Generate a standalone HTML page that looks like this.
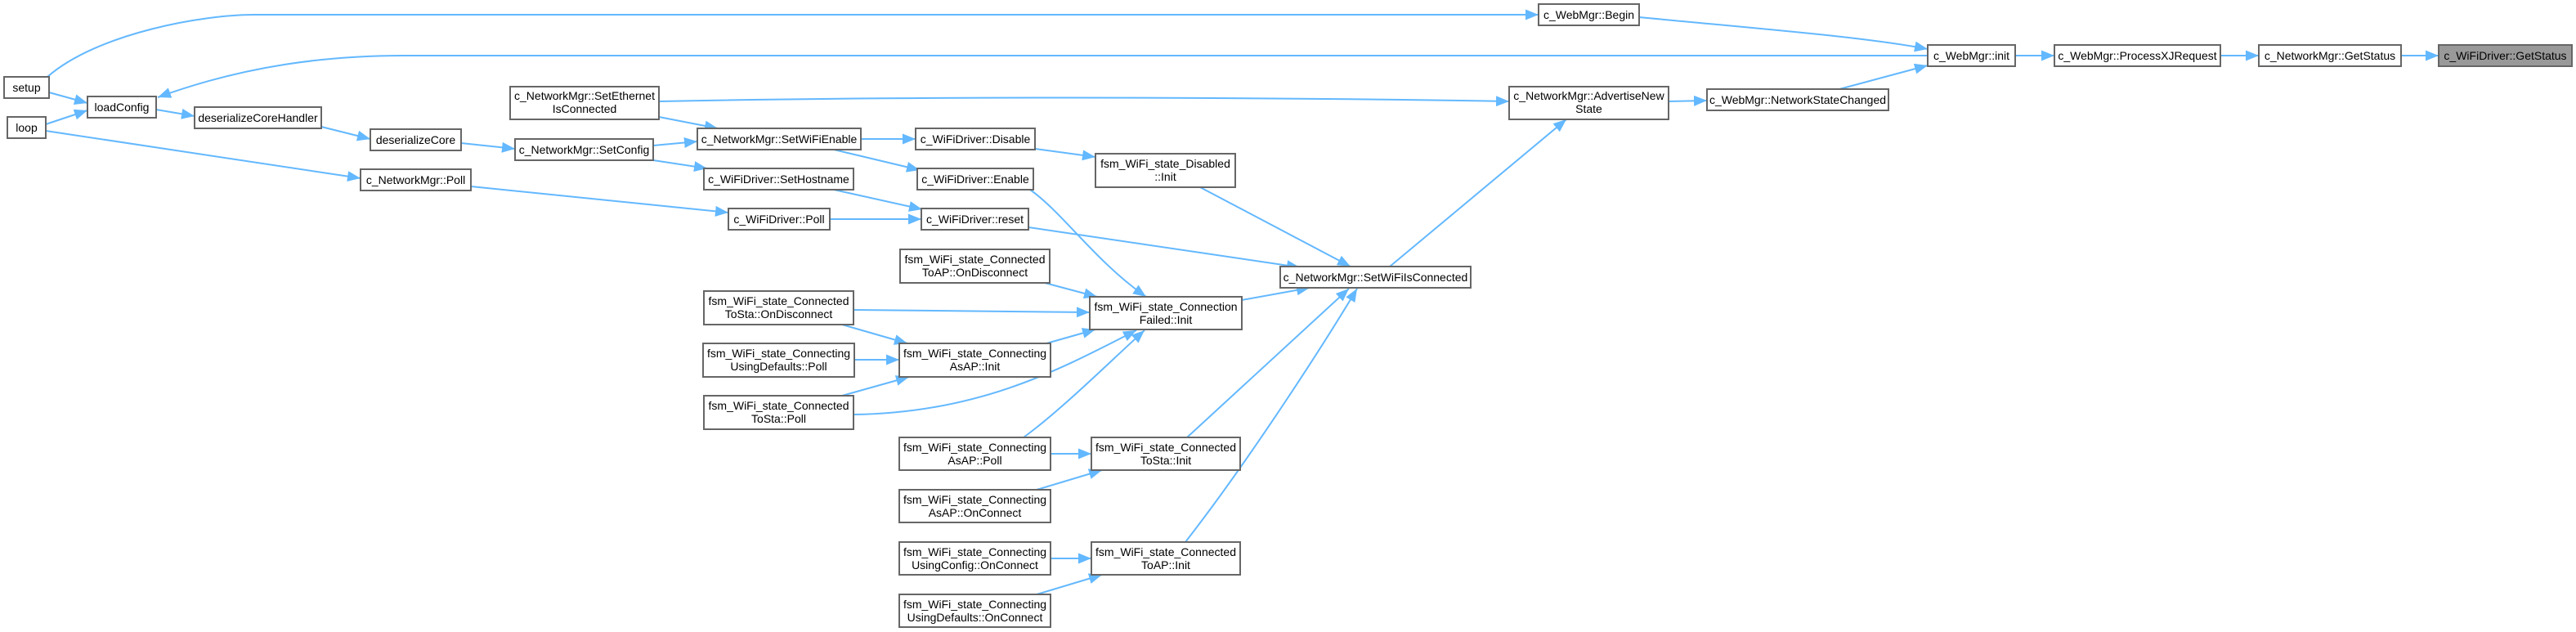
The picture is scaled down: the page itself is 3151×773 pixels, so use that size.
<!DOCTYPE html>
<html><head><meta charset="utf-8"><style>
html,body{margin:0;padding:0;background:#fff;}
svg{display:block;}
text{font-family:"Liberation Sans",Arial,sans-serif;font-size:14px;fill:#000;text-anchor:middle;}
rect{fill:#fff;stroke:#666;stroke-width:2;}
path{fill:none;stroke:#63b8ff;stroke-width:2;}
</style></head><body>
<svg width="3151" height="773" viewBox="0 0 3151 773" xmlns="http://www.w3.org/2000/svg">
<defs>
<marker id="a" markerUnits="userSpaceOnUse" markerWidth="17" markerHeight="13" refX="16" refY="6.5" orient="auto">
<polygon points="0,0 16,6.5 0,13" fill="#63b8ff"/>
</marker>
</defs>
<g marker-end="url(#a)">
<path d="M58,94 C120,40 250,18 310,18 L1882,18"/>
<path d="M2358,68 L495,68 C400,68 300,80 193,119"/>
<path d="M60,113 L107,126"/>
<path d="M56,152 L107,135"/>
<path d="M191,134 L238,142"/>
<path d="M393,155 L453,170"/>
<path d="M564,175 L630,182"/>
<path d="M56,160 L441,218"/>
<path d="M806,124 C1100,118 1500,118 1846,124"/>
<path d="M806,143 L878,157"/>
<path d="M799,178 L853,173"/>
<path d="M799,196 L865,206"/>
<path d="M1053,170 L1120,170"/>
<path d="M1020,183 L1125,208"/>
<path d="M1020,232 L1128,256"/>
<path d="M1015,268 L1127,268"/>
<path d="M576,228 L891,260"/>
<path d="M1266,182 L1340,192"/>
<path d="M1260,232 C1300,260 1340,320 1402,363"/>
<path d="M1258,278 L1590,327"/>
<path d="M1468,229 L1652,326"/>
<path d="M1700,326 L1916,146"/>
<path d="M1519,367 L1602,352"/>
<path d="M1278,346 L1342,363"/>
<path d="M1044,379 L1333,382"/>
<path d="M1030,397 L1110,420"/>
<path d="M1045,440 L1100,440"/>
<path d="M1030,484 L1112,461"/>
<path d="M1044,507 C1200,505 1300,450 1390,404"/>
<path d="M1280,420 L1340,403"/>
<path d="M1252,535 C1300,500 1360,440 1400,404"/>
<path d="M1285,555 L1335,555"/>
<path d="M1268,599 L1348,575"/>
<path d="M1452,535 L1650,353"/>
<path d="M1285,683 L1335,683"/>
<path d="M1268,727 L1348,703"/>
<path d="M1450,663 C1530,560 1620,420 1660,353"/>
<path d="M2041,124 L2088,123"/>
<path d="M2250,109 L2358,80"/>
<path d="M2005,21 C2150,35 2280,45 2358,60"/>
<path d="M2465,68 L2513,68"/>
<path d="M2716,68 L2763,68"/>
<path d="M2937,68 L2983,68"/>
</g>

<rect x="5" y="94" width="55" height="26"/><text x="32.5" y="112">setup</text>
<rect x="9" y="143" width="47" height="26"/><text x="32.5" y="161">loop</text>
<rect x="107" y="118" width="84" height="26"/><text x="149" y="136">loadConfig</text>
<rect x="238" y="131" width="155" height="26"/><text x="315.5" y="149">deserializeCoreHandler</text>
<rect x="453" y="158" width="111" height="26"/><text x="508.5" y="176">deserializeCore</text>
<rect x="441" y="207" width="135" height="26"/><text x="508.5" y="225">c_NetworkMgr::Poll</text>
<rect x="624" y="106" width="182" height="40"/><text x="715" y="122">c_NetworkMgr::SetEthernet</text><text x="715" y="138">IsConnected</text>
<rect x="630" y="170" width="169" height="26"/><text x="714.5" y="188">c_NetworkMgr::SetConfig</text>
<rect x="853" y="157" width="200" height="26"/><text x="953" y="175">c_NetworkMgr::SetWiFiEnable</text>
<rect x="861" y="206" width="183" height="26"/><text x="952.5" y="224">c_WiFiDriver::SetHostname</text>
<rect x="891" y="255" width="124" height="26"/><text x="953" y="273">c_WiFiDriver::Poll</text>
<rect x="1120" y="157" width="146" height="26"/><text x="1193" y="175">c_WiFiDriver::Disable</text>
<rect x="1122" y="206" width="142" height="26"/><text x="1193" y="224">c_WiFiDriver::Enable</text>
<rect x="1127" y="255" width="131" height="26"/><text x="1192.5" y="273">c_WiFiDriver::reset</text>
<rect x="1340" y="188" width="171" height="41"/><text x="1425.5" y="205">fsm_WiFi_state_Disabled</text><text x="1425.5" y="221">::Init</text>
<rect x="1101" y="305" width="183" height="41"/><text x="1192.5" y="322">fsm_WiFi_state_Connected</text><text x="1192.5" y="338">ToAP::OnDisconnect</text>
<rect x="861" y="356" width="183" height="41"/><text x="952.5" y="373">fsm_WiFi_state_Connected</text><text x="952.5" y="389">ToSta::OnDisconnect</text>
<rect x="1333" y="363" width="186" height="40"/><text x="1426" y="380">fsm_WiFi_state_Connection</text><text x="1426" y="396">Failed::Init</text>
<rect x="1566" y="326" width="233" height="26"/><text x="1682.5" y="344">c_NetworkMgr::SetWiFiIsConnected</text>
<rect x="860" y="420" width="185" height="41"/><text x="952.5" y="437">fsm_WiFi_state_Connecting</text><text x="952.5" y="453">UsingDefaults::Poll</text>
<rect x="1100" y="420" width="185" height="41"/><text x="1192.5" y="437">fsm_WiFi_state_Connecting</text><text x="1192.5" y="453">AsAP::Init</text>
<rect x="861" y="484" width="183" height="41"/><text x="952.5" y="501">fsm_WiFi_state_Connected</text><text x="952.5" y="517">ToSta::Poll</text>
<rect x="1100" y="535" width="185" height="40"/><text x="1192.5" y="552">fsm_WiFi_state_Connecting</text><text x="1192.5" y="568">AsAP::Poll</text>
<rect x="1335" y="535" width="182" height="40"/><text x="1426" y="552">fsm_WiFi_state_Connected</text><text x="1426" y="568">ToSta::Init</text>
<rect x="1100" y="599" width="185" height="40"/><text x="1192.5" y="616">fsm_WiFi_state_Connecting</text><text x="1192.5" y="632">AsAP::OnConnect</text>
<rect x="1100" y="663" width="185" height="40"/><text x="1192.5" y="680">fsm_WiFi_state_Connecting</text><text x="1192.5" y="696">UsingConfig::OnConnect</text>
<rect x="1335" y="663" width="182" height="40"/><text x="1426" y="680">fsm_WiFi_state_Connected</text><text x="1426" y="696">ToAP::Init</text>
<rect x="1100" y="727" width="185" height="40"/><text x="1192.5" y="744">fsm_WiFi_state_Connecting</text><text x="1192.5" y="760">UsingDefaults::OnConnect</text>
<rect x="1882" y="5" width="123" height="26"/><text x="1943.5" y="23">c_WebMgr::Begin</text>
<rect x="1846" y="106" width="195" height="40"/><text x="1943.5" y="122">c_NetworkMgr::AdvertiseNew</text><text x="1943.5" y="138">State</text>
<rect x="2088" y="109" width="222" height="26"/><text x="2199" y="127">c_WebMgr::NetworkStateChanged</text>
<rect x="2358" y="55" width="107" height="26"/><text x="2411.5" y="73">c_WebMgr::init</text>
<rect x="2513" y="55" width="203" height="26"/><text x="2614.5" y="73">c_WebMgr::ProcessXJRequest</text>
<rect x="2763" y="55" width="174" height="26"/><text x="2850" y="73">c_NetworkMgr::GetStatus</text>
<rect x="2983" y="55" width="163" height="26" style="fill:#999"/><text x="3064.5" y="73">c_WiFiDriver::GetStatus</text>
</svg>
</body></html>
